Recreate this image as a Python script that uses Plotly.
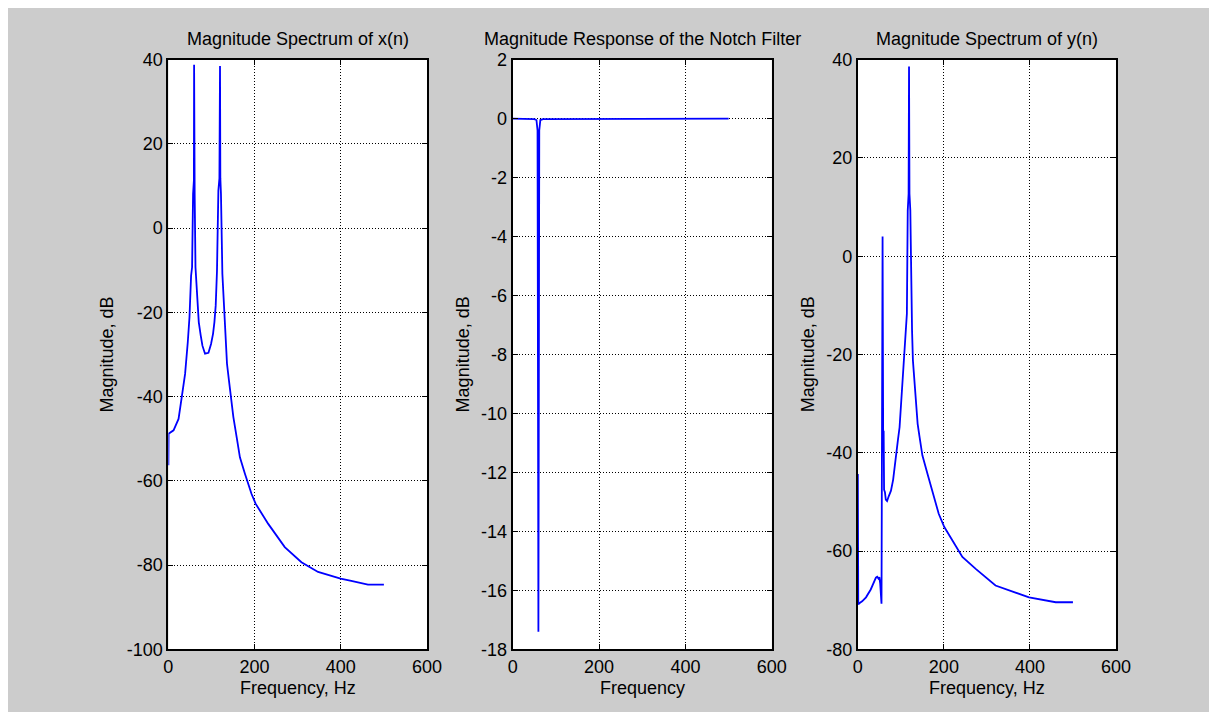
import plotly.graph_objects as go

# the page body keeps its default 8 px margin; the figure fills the rest of the 1217x720 window
OFF = 8
W, H = 1217 - 2 * OFF, 720 - 2 * OFF
# measured mapping from paper fraction to window pixels in the rendered page
PX0, PXW = 10.6, 1185.0
PY0, PYH = 17.4, 684.5

# Panel 1: magnitude spectrum of x(n)
freq_x = [0, 0.5, 12, 23.6, 31.2, 38.8, 45, 49, 52.7, 55, 57.3, 59.2, 59.7, 60.2, 61, 62.9, 67.5, 70.5,
          75.1, 79, 85, 93, 99, 103.6, 106.8, 109.8, 112.8, 116, 118.4, 119.8, 120.6, 122, 125.3, 130,
          133, 136, 140.6, 145.2, 150.7, 158.4, 166, 177.6, 193, 202.3, 231.7, 270, 308.7, 347.3,
          399.5, 424.3, 463, 500]
mag_x = [-56.3, -48.8, -48.0, -45.3, -40.0, -34.6, -27.1, -21.1, -11.3, -9.3, 8.1, 11.3, 38.8, 11.3, 8.1,
         -9.3, -17.2, -22.3, -25.5, -27.9, -29.8, -29.6, -27.5, -25.1, -22.3, -18.4, -10.1, 8.9, 11.8,
         38.5, 11.8, 8.1, -10.9, -20.3, -27.5, -32.2, -36.2, -40.1, -44.8, -49.6, -54.4, -58.3, -63.1,
         -65.4, -70.2, -75.7, -79.3, -81.6, -83.2, -83.7, -84.6, -84.6]

# Panel 2: notch filter magnitude response
freq_h = [0, 50, 55, 57.5, 59.5, 61.5, 64, 70, 500]
mag_h = [0, -0.02, -0.05, -0.4, -17.4, -0.4, -0.05, -0.02, 0]

# Panel 3: magnitude spectrum of y(n)
freq_y = [0, 1, 5, 10, 19, 30, 42, 45, 48, 50, 52, 54, 55, 57.5, 59, 60, 61, 63, 65, 68, 72, 77, 82,
          85, 89, 93, 97, 100, 103, 106, 108, 110, 112, 114, 116, 118, 119, 120, 122, 124, 126, 128,
          131, 135, 139, 143, 150, 162, 174, 188, 201, 243, 274, 320, 398, 460, 500]
mag_y = [-44.3, -70.8, -70.5, -70.2, -69.4, -67.8, -65.4, -65.2, -65.6, -65.3, -66.6, -70.7, -70.7, 4.0,
         -40.0, -35.5, -47.5, -48.0, -49.5, -49.8, -48.8, -47.7, -45.5, -43.6, -40.2, -37.5, -34.8,
         -30.7, -28.0, -23.9, -21.2, -17.0, -15.1, -11.7, 9.3, 12.7, 38.6, 12.7, 9.3, -11.1, -15.1,
         -21.2, -24.6, -30.0, -34.1, -36.5, -40.5, -44.3, -48.3, -52.4, -55.1, -61.2, -63.6, -67.0,
         -69.4, -70.4, -70.4]

titles = ["Magnitude Spectrum of x(n)", "Magnitude Response of the Notch Filter", "Magnitude Spectrum of y(n)"]
xtitles = ["Frequency, Hz", "Frequency", "Frequency, Hz"]
ytitle = "Magnitude, dB"
x_ticks = [0, 200, 400, 600]
y_ticks = [[-100, -80, -60, -40, -20, 0, 20, 40],
           [-18, -16, -14, -12, -10, -8, -6, -4, -2, 0, 2],
           [-80, -60, -40, -20, 0, 20, 40]]
y_ranges = [[-100, 40], [-18, 2], [-80, 40]]

FONT = "Liberation Sans, Arial, Helvetica, sans-serif"
BLUE = "#0000ff"

# reference-image pixel positions of the plot boxes and texts
px_left = [166.5, 512, 858.3]
px_right = [426, 772, 1117.3]
px_top, px_bot = 59, 649.3
ytitle_px = [104, 462, 808]
title_py, xtitle_py = 38.5, 688


def fx(p):
    return (p - PX0) / PXW


def fy(p):
    return 1 - (p - PY0) / PYH


fig = go.Figure()
series = [(freq_x, mag_x), (freq_h, mag_h), (freq_y, mag_y)]
for i, (sx, sy) in enumerate(series):
    sfx = "" if i == 0 else str(i + 1)
    fig.add_trace(go.Scatter(x=sx, y=sy, mode="lines", line=dict(color=BLUE, width=1.8),
                             xaxis="x" + sfx, yaxis="y" + sfx, showlegend=False, hoverinfo="skip"))

axis_common = dict(showline=True, linecolor="black", linewidth=2, mirror="ticks",
                   ticks="inside", ticklen=5, tickwidth=1, tickcolor="black",
                   showgrid=True, gridcolor="black", gridwidth=1, griddash="1px,2px",
                   zeroline=False, tickfont=dict(family=FONT, size=18, color="black"),
                   fixedrange=True)

layout = dict(width=W, height=H, margin=dict(l=0, r=0, t=0, b=0), autosize=False,
              paper_bgcolor="#cccccc", plot_bgcolor="white", showlegend=False)

ydom = [fy(px_bot), fy(px_top)]
annotations = []
for i in range(3):
    sfx = "" if i == 0 else str(i + 1)
    xd = [fx(px_left[i]), fx(px_right[i])]
    layout["xaxis" + sfx] = dict(axis_common, domain=xd, range=[0, 600], tickvals=x_ticks,
                                 ticktext=[str(v) for v in x_ticks], anchor="y" + sfx)
    layout["yaxis" + sfx] = dict(axis_common, domain=ydom, range=y_ranges[i], tickvals=y_ticks[i],
                                 ticktext=[str(v) for v in y_ticks[i]], anchor="x" + sfx)
    cx = (xd[0] + xd[1]) / 2
    annotations.append(dict(text=titles[i], x=cx, y=fy(title_py), xref="paper", yref="paper",
                            showarrow=False, xanchor="center", yanchor="middle",
                            font=dict(family=FONT, size=18, color="black")))
    annotations.append(dict(text=xtitles[i], x=cx, y=fy(xtitle_py), xref="paper", yref="paper",
                            showarrow=False, xanchor="center", yanchor="middle",
                            font=dict(family=FONT, size=18, color="black")))
    annotations.append(dict(text=ytitle, x=fx(ytitle_px[i]), y=(ydom[0] + ydom[1]) / 2,
                            xref="paper", yref="paper", showarrow=False, textangle=-90,
                            xanchor="center", yanchor="middle",
                            font=dict(family=FONT, size=18, color="black")))

layout["annotations"] = annotations
fig.update_layout(**layout)
fig.write_html("out.html")
